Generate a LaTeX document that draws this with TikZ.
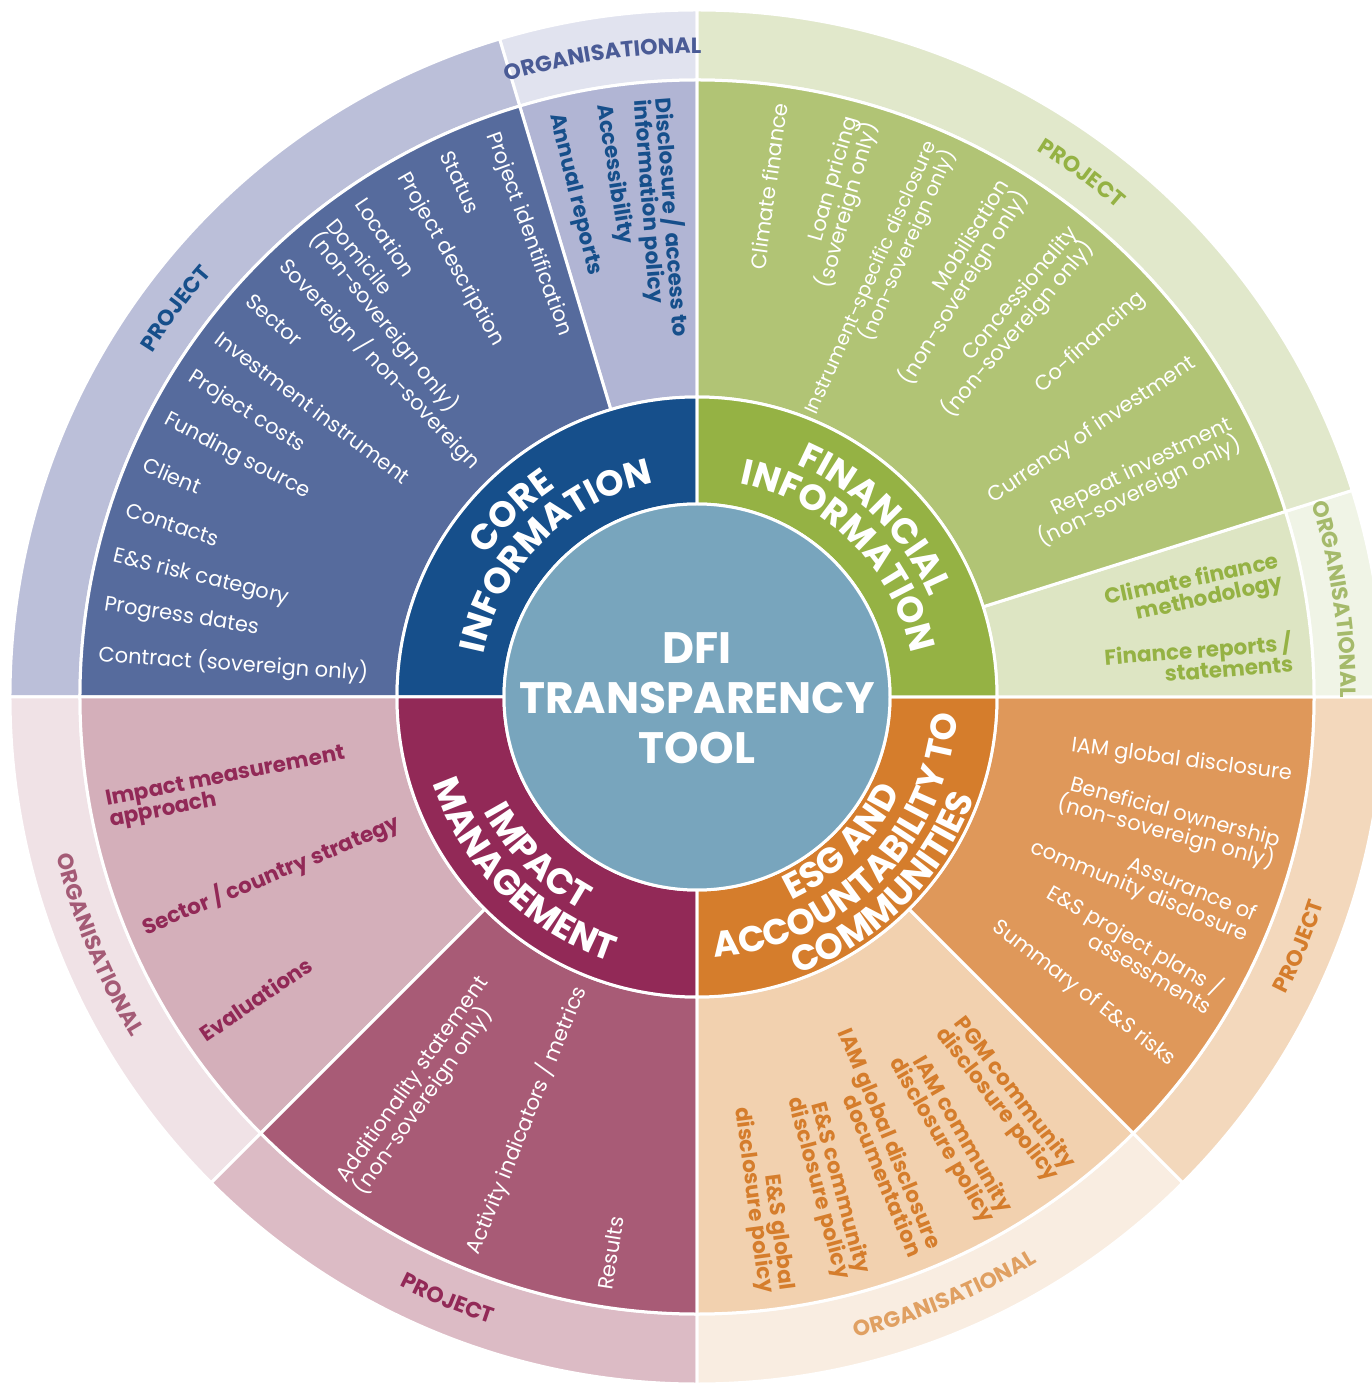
\documentclass[tikz,border=0pt]{standalone}
\usepackage{fontspec}
\setmainfont{Poppins}
\usepackage{tikz}
\usetikzlibrary{decorations.text}

\definecolor{centerBlue}{HTML}{78A5BD}
\definecolor{coreInner}{HTML}{164F8B}
\definecolor{coreItem}{HTML}{566B9D}
\definecolor{coreOrgItem}{HTML}{B1B5D4}
\definecolor{coreOuter}{HTML}{BBBFD9}
\definecolor{coreOrgOuter}{HTML}{E1E3EF}
\definecolor{coreOrgLabel}{HTML}{4A5B96}
\definecolor{finInner}{HTML}{95B244}
\definecolor{finItem}{HTML}{B1C475}
\definecolor{finOrgItem}{HTML}{DDE5C3}
\definecolor{finOuter}{HTML}{E1E8CB}
\definecolor{finOrgOuter}{HTML}{F0F4E6}
\definecolor{finOrgLabel}{HTML}{A5BA6B}
\definecolor{esgInner}{HTML}{D57D2C}
\definecolor{esgItem}{HTML}{DF985A}
\definecolor{esgOrgItem}{HTML}{F2D1AF}
\definecolor{esgOuter}{HTML}{F3D8BC}
\definecolor{esgOrgOuter}{HTML}{F9EDE1}
\definecolor{esgOrgLabel}{HTML}{E0A062}
\definecolor{impInner}{HTML}{922957}
\definecolor{impItem}{HTML}{A85B76}
\definecolor{impOrgItem}{HTML}{D4AFBA}
\definecolor{impOuter}{HTML}{DCBBC5}
\definecolor{impOrgOuter}{HTML}{F0E2E6}
\definecolor{impOrgLabel}{HTML}{A45B76}

\newcommand{\itemfont}{\fontsize{21}{21.5}\selectfont\lineskiplimit=-50pt\relax}
\newcommand{\smallitemfont}{\fontsize{19.5}{21}\selectfont\lineskiplimit=-50pt\relax}
\newcommand{\orgfont}{\fontsize{21.5}{21}\selectfont\bfseries\lineskiplimit=-50pt\relax}
\newcommand{\catfont}{\fontsize{36}{36}\selectfont\bfseries}
\newcommand{\ringfont}{\fontsize{22}{22}\selectfont\bfseries}
\newcommand{\titlefont}{\fontsize{44}{50}\selectfont\bfseries}

\begin{document}
\begin{tikzpicture}[x=1pt, y=1pt,
	part/.style={draw=white, line width=3pt},
	inward/.style={anchor=west, align=left, inner sep=0pt},
	outward/.style={anchor=east, align=right, inner sep=0pt},
	item/.style={text=white, font=\itemfont},
	orgitem/.style={font=\orgfont},
	ringtext/.style={decorate, decoration={text along path, text align=center, text color=#1}}]
	\useasboundingbox (-697,-686) rectangle (674,697);
	
	% outer ring
	\draw [part, fill=coreOrgOuter] (90:617) arc (90:106.7:617) -- (106.7:687) arc (106.7:90:687) -- cycle;
	\draw [part, fill=coreOuter] (106.7:617) arc (106.7:180:617) -- (180:687) arc (180:106.7:687) -- cycle;
	\draw [part, fill=impOrgOuter] (180:617) arc (180:225:617) -- (225:687) arc (225:180:687) -- cycle;
	\draw [part, fill=impOuter] (225:617) arc (225:270:617) -- (270:687) arc (270:225:687) -- cycle;
	\draw [part, fill=esgOrgOuter] (270:617) arc (270:315:617) -- (315:687) arc (315:270:687) -- cycle;
	\draw [part, fill=esgOuter] (315:617) arc (315:360:617) -- (0:687) arc (360:315:687) -- cycle;
	\draw [part, fill=finOrgOuter] (0:617) arc (0:17.5:617) -- (17.5:687) arc (17.5:0:687) -- cycle;
	\draw [part, fill=finOuter] (17.5:617) arc (17.5:90:617) -- (90:687) arc (90:17.5:687) -- cycle;
	
	% item ring
	\draw [part, fill=coreOrgItem] (90:300) arc (90:106.7:300) -- (106.7:617) arc (106.7:90:617) -- cycle;
	\draw [part, fill=coreItem] (106.7:300) arc (106.7:180:300) -- (180:617) arc (180:106.7:617) -- cycle;
	\draw [part, fill=impOrgItem] (180:300) arc (180:225:300) -- (225:617) arc (225:180:617) -- cycle;
	\draw [part, fill=impItem] (225:300) arc (225:270:300) -- (270:617) arc (270:225:617) -- cycle;
	\draw [part, fill=esgOrgItem] (270:300) arc (270:315:300) -- (315:617) arc (315:270:617) -- cycle;
	\draw [part, fill=esgItem] (315:300) arc (315:360:300) -- (0:617) arc (360:315:617) -- cycle;
	\draw [part, fill=finOrgItem] (0:300) arc (0:17.5:300) -- (17.5:617) arc (17.5:0:617) -- cycle;
	\draw [part, fill=finItem] (17.5:300) arc (17.5:90:300) -- (90:617) arc (90:17.5:617) -- cycle;
	
	% category ring
	\draw [part, fill=coreInner] (90:193) arc (90:180:193) -- (180:300) arc (180:90:300) -- cycle;
	\draw [part, fill=impInner] (180:193) arc (180:270:193) -- (270:300) arc (270:180:300) -- cycle;
	\draw [part, fill=esgInner] (270:193) arc (270:360:193) -- (0:300) arc (360:270:300) -- cycle;
	\draw [part, fill=finInner] (0:193) arc (0:90:193) -- (90:300) arc (90:0:300) -- cycle;
	\draw [part, fill=centerBlue] (0,0) circle (193);
	
	\node [text=white, font=\titlefont, align=center] (TITLE) at (0,-1) {DFI\\TRANSPARENCY\\TOOL};
	
	\path [ringtext=white, decoration={text={|\catfont|CORE}}] (195:253) arc (195:75:253);
	\path [ringtext=white, decoration={text={|\catfont|INFORMATION}}] (195:218) arc (195:75:218);
	\path [ringtext=white, decoration={text={|\catfont|FINANCIAL}}] (105:253) arc (105:-15:253);
	\path [ringtext=white, decoration={text={|\catfont|INFORMATION}}] (105:218) arc (105:-15:218);
	\path [ringtext=white, decoration={text={|\catfont|IMPACT}}] (165:242) arc (165:285:242);
	\path [ringtext=white, decoration={text={|\catfont|MANAGEMENT}}] (165:278) arc (165:285:278);
	\path [ringtext=white, decoration={text={|\catfont|ESG AND}}] (255:224) arc (255:375:224);
	\path [ringtext=white, decoration={text={|\catfont|ACCOUNTABILITY TO}}] (255:261) arc (255:375:261);
	\path [ringtext=white, decoration={text={|\catfont|COMMUNITIES}}] (255:295) arc (255:375:295);
	
	% ring labels
	\path [ringtext=coreInner, decoration={text={|\ringfont|PROJECT}}] (173.3:644) arc (173.3:113.3:644);
	\path [ringtext=coreOrgLabel, decoration={text={|\ringfont|ORGANISATIONAL}}] (128.4:644) arc (128.4:68.4:644);
	\path [ringtext=finInner, decoration={text={|\ringfont|PROJECT}}] (83.7:644) arc (83.7:23.7:644);
	\path [ringtext=finOrgLabel, decoration={text={|\ringfont|ORGANISATIONAL}}] (38.7:644) arc (38.7:-21.3:644);
	\path [ringtext=esgInner, decoration={text={|\ringfont|PROJECT}}] (-52.5:660) arc (-52.5:7.5:660);
	\path [ringtext=esgOrgLabel, decoration={text={|\ringfont|ORGANISATIONAL}}] (-97.5:660) arc (-97.5:-37.5:660);
	\path [ringtext=impInner, decoration={text={|\ringfont|PROJECT}}] (217.5:660) arc (217.5:277.5:660);
	\path [ringtext=impOrgLabel, decoration={text={|\ringfont|ORGANISATIONAL}}] (172.5:660) arc (172.5:232.5:660);
	
	% core information
	\node [item, inward, rotate=-70] (CORE_1) at (110:600) {Project identification};
	\node [item, inward, rotate=-65.3] (CORE_2) at (114.7:600) {Status};
	\node [item, inward, rotate=-60.6] (CORE_3) at (119.4:600) {Project description};
	\node [item, inward, rotate=-55.9] (CORE_4) at (124.1:600) {Location};
	\node [item, inward, rotate=-51.2] (CORE_5) at (128.8:600) {Domicile\\(non-sovereign only)};
	\node [item, inward, rotate=-46.4] (CORE_6) at (133.6:600) {Sovereign / non-sovereign};
	\node [item, inward, rotate=-41.7] (CORE_7) at (138.3:600) {Sector};
	\node [item, inward, rotate=-37] (CORE_8) at (143:600) {Investment instrument};
	\node [item, inward, rotate=-32.3] (CORE_9) at (147.7:600) {Project costs};
	\node [item, inward, rotate=-27.6] (CORE_10) at (152.4:600) {Funding source};
	\node [item, inward, rotate=-22.9] (CORE_11) at (157.1:600) {Client};
	\node [item, inward, rotate=-18.2] (CORE_12) at (161.8:600) {Contacts};
	\node [item, inward, rotate=-13.5] (CORE_13) at (166.5:600) {E\&S risk category};
	\node [item, inward, rotate=-8.8] (CORE_14) at (171.2:600) {Progress dates};
	\node [item, inward, rotate=-4.1] (CORE_15) at (175.9:600) {Contract (sovereign only)};
	
	\node [orgitem, inward, text=coreInner, rotate=-85.7] (CORE_ORG_1) at (94.3:600) {Disclosure / access to\\information policy};
	\node [orgitem, inward, text=coreInner, rotate=-81] (CORE_ORG_2) at (99:600) {Accessibility};
	\node [orgitem, inward, text=coreInner, rotate=-76.3] (CORE_ORG_3) at (103.7:600) {Annual reports};
	
	% financial information
	\node [item, outward, rotate=82] (FIN_1) at (82:600) {Climate finance};
	\node [item, outward, rotate=74] (FIN_2) at (74:600) {Loan pricing\\(sovereign only)};
	\node [item, outward, font=\smallitemfont, rotate=66] (FIN_3) at (66:602) {Instrument-specific disclosure\\(non-sovereign only)};
	\node [item, outward, rotate=58] (FIN_4) at (58:600) {Mobilisation\\(non-sovereign only)};
	\node [item, outward, rotate=50] (FIN_5) at (50:600) {Concessionality\\(non-sovereign only)};
	\node [item, outward, rotate=42] (FIN_6) at (42:600) {Co-financing};
	\node [item, outward, rotate=34] (FIN_7) at (34:600) {Currency of investment};
	\node [item, outward, rotate=26] (FIN_8) at (26:600) {Repeat investment\\(non-sovereign only)};
	
	\node [orgitem, outward, text=finInner, rotate=12] (FIN_ORG_1) at (12:597) {Climate finance\\methodology};
	\node [orgitem, outward, text=finInner, rotate=4.4] (FIN_ORG_2) at (4.4:597) {Finance reports /\\statements};
	
	% esg and accountability
	\node [item, outward, rotate=-7.5] (ESG_1) at (-7.5:600) {IAM global disclosure};
	\node [item, outward, rotate=-15] (ESG_2) at (-15:600) {Beneficial ownership\\(non-sovereign only)};
	\node [item, outward, rotate=-22.5] (ESG_3) at (-22.5:600) {Assurance of\\community disclosure};
	\node [item, outward, rotate=-30] (ESG_4) at (-30:600) {E\&S project plans /\\assessments};
	\node [item, outward, rotate=-37.5] (ESG_5) at (-37.5:600) {Summary of E\&S risks};
	
	\node [orgitem, outward, text=esgInner, rotate=-52.5] (ESG_ORG_1) at (-52.5:600) {PGM community\\disclosure policy};
	\node [orgitem, outward, text=esgInner, rotate=-60] (ESG_ORG_2) at (-60:600) {IAM community\\disclosure policy};
	\node [orgitem, outward, text=esgInner, rotate=-67.5] (ESG_ORG_3) at (-67.5:600) {IAM global disclosure\\documentation};
	\node [orgitem, outward, text=esgInner, rotate=-75] (ESG_ORG_4) at (-75:600) {E\&S community\\disclosure policy};
	\node [orgitem, outward, text=esgInner, rotate=-82.5] (ESG_ORG_5) at (-82.5:600) {E\&S global\\disclosure policy};
	
	% impact management
	\node [orgitem, inward, text=impInner, rotate=11] (IMP_ORG_1) at (191:600) {Impact measurement\\approach};
	\node [orgitem, inward, text=impInner, rotate=22.7] (IMP_ORG_2) at (202.7:600) {Sector / country strategy};
	\node [orgitem, inward, text=impInner, rotate=34.4] (IMP_ORG_3) at (214.4:600) {Evaluations};
	
	\node [item, inward, rotate=54.8] (IMP_1) at (234.8:600) {Additionality statement\\(non-sovereign only)};
	\node [item, inward, rotate=68] (IMP_2) at (248:600) {Activity indicators / metrics};
	\node [item, inward, rotate=81.2] (IMP_3) at (261.2:600) {Results};
	
\end{tikzpicture}
\end{document}
